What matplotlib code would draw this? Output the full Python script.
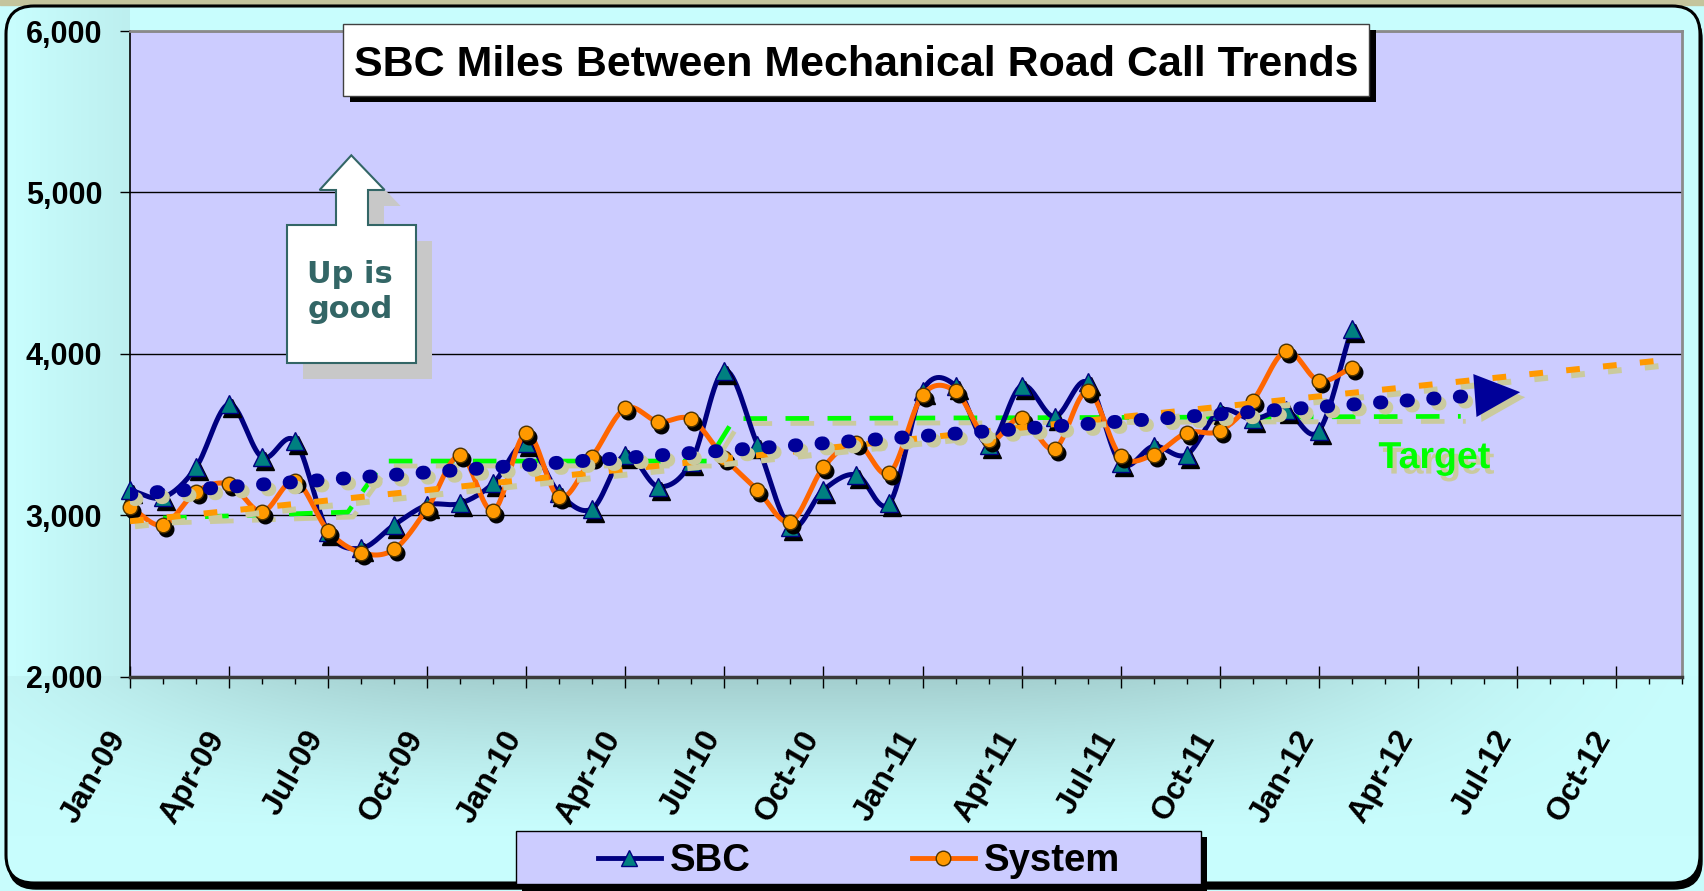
import numpy as np
import matplotlib
matplotlib.use("Agg")
import matplotlib.pyplot as plt
from matplotlib import patches
from matplotlib import transforms as mtransforms
from matplotlib import patheffects as pe
from matplotlib.lines import Line2D
from matplotlib.ticker import FuncFormatter

# ---------------- data ----------------
month_abbr = ['Jan', 'Feb', 'Mar', 'Apr', 'May', 'Jun', 'Jul', 'Aug', 'Sep', 'Oct', 'Nov', 'Dec']
years = ['09', '10', '11', '12']
months = [f"{m}-{y}" for y in years for m in month_abbr]          # Jan-09 ... Dec-12
tick_labels = months[::3]                                         # Jan-09, Apr-09, ... Oct-12

sbc = [3155, 3110, 3296, 3688, 3358, 3459, 2897, 2795, 2939, 3062, 3073, 3197,
       3445, 3135, 3040, 3375, 3177, 3330, 3896, 3437, 2927, 3156, 3250, 3073,
       3771, 3802, 3437, 3802, 3610, 3823, 3320, 3427, 3375, 3646, 3594, 3650,
       3521, 4156]
system = [3052, 2938, 3144, 3192, 3021, 3212, 2903, 2767, 2788, 3041, 3371, 3027,
          3509, 3110, 3363, 3662, 3579, 3594, 3354, 3156, 2958, 3296, 3448, 3260,
          3744, 3767, 3463, 3604, 3410, 3767, 3365, 3375, 3510, 3521, 3708, 4017,
          3833, 3912]

# target (month position, miles)
target_x = [1, 6.6, 7.7, 17.5, 18.3, 40.3]
target_y = [2982, 3019, 3335, 3335, 3598, 3612]

# trend lines (month position, miles)
sbc_trend_x = [0, 40.85, 42.1]
sbc_trend_y = [3130, 3743, 3762]
sys_trend_x = [0, 46.6]
sys_trend_y = [2962, 3964]

# ---------------- style ----------------
W, H, DPI = 1704, 891, 100
plt.rcParams['font.family'] = ['Liberation Sans', 'DejaVu Sans']
plt.rcParams['font.weight'] = 'bold'

NAVY = '#000080'
TEAL = '#008080'
ORANGE_LINE = '#FF6600'
ORANGE_MK = '#FF9900'
GREEN = '#00FF00'
TAN = '#CACA9E'
LAVENDER = '#CCCCFF'


def fx(px):
    return px / W


def fy(py):
    return 1 - py / H


def smooth(x, y, n=16):
    """Excel-like smoothed line through the points (cubic Bezier / Catmull-Rom)."""
    P = np.column_stack([np.asarray(x, float), np.asarray(y, float)])
    P = np.vstack([2 * P[0] - P[1], P, 2 * P[-1] - P[-2]])
    t = np.linspace(0, 1, n, endpoint=False)[:, None]
    segs = []
    for i in range(1, len(P) - 2):
        p0, p1, p2, p3 = P[i - 1], P[i], P[i + 1], P[i + 2]
        c1 = p1 + (p2 - p0) / 6
        c2 = p2 - (p3 - p1) / 6
        segs.append((1 - t) ** 3 * p1 + 3 * (1 - t) ** 2 * t * c1 + 3 * (1 - t) * t ** 2 * c2 + t ** 3 * p2)
    segs.append(P[-2][None, :])
    r = np.vstack(segs)
    return r[:, 0], r[:, 1]


fig = plt.figure(figsize=(W / DPI, H / DPI), dpi=DPI)
fig.patch.set_facecolor('#C8FCFC')

# ---------------- background (rounded chart area with gradient) ----------------
bg = fig.add_axes([0, 0, 1, 1], zorder=-10)
bg.set_xlim(0, W)
bg.set_ylim(H, 0)
bg.axis('off')
bg.add_patch(patches.Rectangle((0, 0), W, 5, color='#C4C49C', zorder=0))
shadow_box = patches.FancyBboxPatch((8, 11), 1694, 878, boxstyle='round,pad=0,rounding_size=28',
                                    facecolor='black', edgecolor='black', zorder=0.5)
bg.add_patch(shadow_box)
border = patches.FancyBboxPatch((6, 6), 1694, 877, boxstyle='round,pad=0,rounding_size=28',
                                facecolor='none', edgecolor='black', lw=2.2, zorder=2)
bg.add_patch(border)

yy, xx = np.mgrid[0:H, 0:W].astype(float)
light = np.array([200, 253, 253]) / 255
dark = np.array([163, 206, 206]) / 255
wy = np.clip(1 - (yy - 676) / 160, 0, 1) * (yy >= 676)
wy = wy ** 1.4
wx = np.exp(-((xx - 760) / 650) ** 4)
wl = np.clip((xx - 15) / 115, 0, 1) * 0.3 * (xx < 130) * (yy < 690)
w = np.maximum(wy * wx, wl)
img = light[None, None, :] * (1 - w[..., None]) + dark[None, None, :] * w[..., None]
im = bg.imshow(img, extent=(0, W, H, 0), aspect='auto', interpolation='bilinear', zorder=1)
im.set_clip_path(border)

# ---------------- main axes ----------------
ax = fig.add_axes([fx(130), fy(676.5), fx(1682) - fx(130), fy(31) - fy(676.5)])
ax.set_facecolor(LAVENDER)
ax.set_xlim(0, 47)
ax.set_ylim(2000, 6000)

ax.set_yticks([2000, 3000, 4000, 5000, 6000])
ax.yaxis.set_major_formatter(FuncFormatter(lambda v, p: f"{int(v):,}"))
ax.yaxis.grid(True, color='black', lw=1.0)
ax.set_axisbelow(True)
ax.tick_params(axis='y', direction='out', length=7, width=1, pad=13, labelsize=22, colors='black')

ax.set_xticks(range(0, 48, 3))
ax.set_xticklabels(tick_labels)
ax.set_xticks(range(48), minor=True)
ax.tick_params(axis='x', which='major', direction='inout', length=15.8, width=1, pad=33,
               labelsize=23, color='black')
ax.tick_params(axis='x', which='minor', direction='out', length=5, width=1, color='black')
shift = mtransforms.ScaledTranslation(-11 / DPI, 0, fig.dpi_scale_trans)
for lab in ax.get_xticklabels():
    lab.set_rotation(60)
    lab.set_ha('right')
    lab.set_va('center')
    lab.set_rotation_mode('anchor')
    lab.set_fontweight('bold')
    lab.set_transform(lab.get_transform() + shift)
for lab in ax.get_yticklabels():
    lab.set_fontweight('bold')

ax.spines['left'].set_color('black')
ax.spines['left'].set_linewidth(1.2)
ax.spines['bottom'].set_color('#3A3A3A')
ax.spines['bottom'].set_linewidth(2.5)
for s in ('top', 'right'):
    ax.spines[s].set_color('#8A8A8A')
    ax.spines[s].set_linewidth(2)

line_shadow = [pe.SimpleLineShadow(offset=(3.6, -3.6), shadow_color=TAN, alpha=1), pe.Normal()]
mk_shadow_tr = mtransforms.offset_copy(ax.transData, fig=fig, x=3, y=-4, units='dots')

# target
ax.plot(target_x, target_y, color=GREEN, lw=3.4, ls=(0, (5.0, 3.9)), zorder=3,
        path_effects=line_shadow)

# SBC series
k = np.arange(len(sbc))
xs, ys = smooth(k, sbc)
ax.plot(xs, ys, color=NAVY, lw=3.6, zorder=4, solid_capstyle='round', clip_on=False)
ax.plot(k, sbc, ls='none', marker='^', ms=12.5, mfc='black', mec='black',
        transform=mk_shadow_tr, zorder=4.1, clip_on=False)
ax.plot(k, sbc, ls='none', marker='^', ms=12.5, mfc=TEAL, mec=NAVY, mew=1, zorder=4.2, clip_on=False)

# System series
k2 = np.arange(len(system))
xs2, ys2 = smooth(k2, system)
ax.plot(xs2, ys2, color=ORANGE_LINE, lw=3.6, zorder=4.5, solid_capstyle='round', clip_on=False)
ax.plot(k2, system, ls='none', marker='o', ms=10.5, mfc='black', mec='black',
        transform=mk_shadow_tr, zorder=4.6, clip_on=False)
ax.plot(k2, system, ls='none', marker='o', ms=10.5, mfc=ORANGE_MK, mec='#4D3300', mew=1,
        zorder=4.7, clip_on=False)

# trend lines
ax.plot(sys_trend_x, sys_trend_y, color=ORANGE_MK, lw=4.3, ls=(0, (2.3, 3.9)), zorder=5,
        path_effects=line_shadow)
ax.plot(sbc_trend_x[:2], sbc_trend_y[:2], color='#000099', lw=10, ls=(0, (0.1, 1.82)),
        dash_capstyle='round', zorder=5.2, path_effects=line_shadow)
arrow = patches.FancyArrowPatch(posA=(sbc_trend_x[1], sbc_trend_y[1]),
                                posB=(sbc_trend_x[2], sbc_trend_y[2]),
                                arrowstyle='-|>,head_length=32.7,head_width=15.5',
                                mutation_scale=1, color='#000099', lw=0,
                                shrinkA=0, shrinkB=0, zorder=5.2,
                                path_effects=[pe.SimplePatchShadow(offset=(3.6, -3.6),
                                                                   shadow_rgbFace=TAN, alpha=1),
                                              pe.Normal()])
ax.add_patch(arrow)

ax.text(39.5, 3292, 'Target', color=GREEN, fontsize=27, fontweight='bold', ha='center',
        va='baseline', zorder=6,
        path_effects=[pe.SimplePatchShadow(offset=(3, -4), shadow_rgbFace=TAN, alpha=1), pe.Normal()])

# ---------------- title box ----------------
fig.add_artist(patches.Rectangle((fx(350), fy(102)), 1026 / W, 72 / H, transform=fig.transFigure,
                                 facecolor='black', edgecolor='none', zorder=8))
fig.add_artist(patches.Rectangle((fx(343), fy(96)), 1026 / W, 72 / H, transform=fig.transFigure,
                                 facecolor='white', edgecolor='#404040', lw=1, zorder=9))
fig.text(fx(856), fy(65), 'SBC Miles Between Mechanical Road Call Trends', fontsize=31,
         fontweight='bold', color='black', ha='center', va='center', zorder=10)

# ---------------- "Up is good" callout ----------------
call = [(287, 363), (287, 225), (336, 225), (336, 190), (319.6, 190), (351.3, 155.3),
        (384.6, 190), (368, 190), (368, 225), (416, 225), (416, 363)]
call_sh = [(fx(x + 16), fy(y + 16)) for x, y in call]
call_f = [(fx(x), fy(y)) for x, y in call]
fig.add_artist(patches.Polygon(call_sh, closed=True, transform=fig.transFigure,
                               facecolor='#C8C8C8', edgecolor='none', zorder=7))
fig.add_artist(patches.Polygon(call_f, closed=True, transform=fig.transFigure,
                               facecolor='white', edgecolor='#336666', lw=1.5, zorder=7.5))
fig.text(fx(350), fy(292), 'Up is\ngood', fontsize=22, fontweight='bold', color='#336666',
         family='DejaVu Sans', ha='center', va='center', linespacing=1.22, zorder=7.6)

# ---------------- legend ----------------
fig.add_artist(patches.Rectangle((fx(522), fy(891)), 685 / W, 54 / H, transform=fig.transFigure,
                                 facecolor='black', edgecolor='none', zorder=3))
fig.add_artist(patches.Rectangle((fx(516), fy(884)), 685 / W, 53 / H, transform=fig.transFigure,
                                 facecolor=LAVENDER, edgecolor='black', lw=1, zorder=3.5))
handles = [Line2D([], [], color=NAVY, lw=3.5, marker='^', ms=12, mfc=TEAL, mec=NAVY),
           Line2D([], [], color=ORANGE_LINE, lw=3.5, marker='o', ms=10.5, mfc=ORANGE_MK, mec='#4D3300')]
leg = fig.legend(handles, ['SBC', 'System'], loc='center', bbox_to_anchor=(fx(859), fy(861)),
                 ncol=2, frameon=False, prop={'size': 27.5, 'weight': 'bold'},
                 handlelength=1.65, handletextpad=0.25, columnspacing=4.2)
leg.set_zorder(6)

fig.savefig('out.png', dpi=DPI, facecolor=fig.get_facecolor())
